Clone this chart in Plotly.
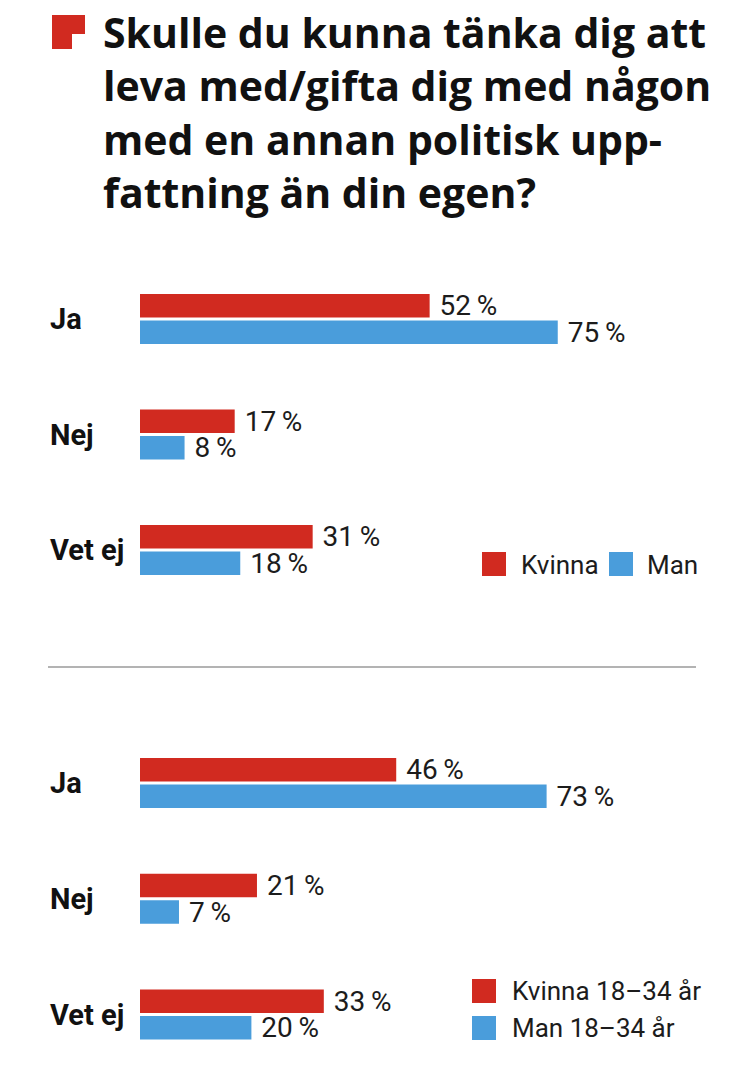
import plotly.graph_objects as go

# ---- data ----
categories = ["Ja", "Nej", "Vet ej"]
kvinna_all = [52, 17, 31]
man_all = [75, 8, 18]
kvinna_young = [46, 21, 33]
man_young = [73, 7, 20]
legend_top = ["Kvinna", "Man"]
legend_bottom = ["Kvinna 18–34 år", "Man 18–34 år"]
title_lines = [
    "Skulle du kunna tänka dig att",
    "leva med/gifta dig med någon",
    "med en annan politisk upp-",
    "fattning än din egen?",
]

RED = "#d12a20"
BLUE = "#4a9ddb"
TXT = "#1c1c1c"
W, H = 749, 1080
TITLE_FONT = "'Open Sans', Roboto, sans-serif"
BODY_FONT = "Roboto, 'Liberation Sans', sans-serif"


def px(x):
    return x / W


def py(y):
    return 1 - y / H


fig = go.Figure()

def add_pair(kv, mn, xa, ya):
    for vals, col in ((kv, RED), (mn, BLUE)):
        fig.add_trace(go.Bar(
            y=categories, x=vals, orientation="h",
            marker=dict(color=col, line=dict(width=0)),
            text=[f"\u00a0{v}\u2009%" for v in vals],
            textposition="outside", constraintext="none",
            textfont=dict(family=BODY_FONT, size=28, color=TXT),
            cliponaxis=False, showlegend=False, hoverinfo="skip",
            xaxis=xa, yaxis=ya,
        ))

add_pair(kvinna_all, man_all, "x", "y")
add_pair(kvinna_young, man_young, "x2", "y2")

xcommon = dict(range=[0, 100], visible=False, domain=[px(140), px(697)], fixedrange=True)
ycommon = dict(type="category", categoryorder="array", categoryarray=categories,
               range=[2.5, -0.5], visible=False, fixedrange=True)

fig.update_layout(
    width=W, height=H,
    margin=dict(l=0, r=0, t=0, b=0),
    paper_bgcolor="white", plot_bgcolor="white",
    barmode="group", bargap=0.54, bargroupgap=0.12,
    xaxis=dict(**xcommon, anchor="y"),
    xaxis2=dict(**xcommon, anchor="y2"),
    yaxis=dict(**ycommon, domain=[py(607.75), py(261.25)], anchor="x"),
    yaxis2=dict(**ycommon, domain=[py(1072.4), py(725.1)], anchor="x2"),
)

annotations = []
# title (single multi-line text)
annotations.append(dict(
    text="<b>" + "<br>".join(title_lines) + "</b>", xref="paper", yref="paper",
    x=px(101), y=py(222), xanchor="left", yanchor="bottom", align="left",
    showarrow=False, font=dict(family=TITLE_FONT, size=41, color="#111", weight=800),
))
# category labels
for ya in ("y", "y2"):
    for c in categories:
        annotations.append(dict(
            text=f"<b>{c}</b>", xref="paper", yref=ya, x=px(48), y=c,
            xanchor="left", yanchor="middle", showarrow=False,
            font=dict(family=BODY_FONT, size=29, color="#111"),
        ))

shapes = []
# red title icon (square with bottom-right notch)
x0, x1, y0, y1 = px(52), px(85), py(15), py(49)
xn, yn = px(72), py(34)
shapes.append(dict(
    type="path", xref="paper", yref="paper",
    path=f"M{x0},{y0} L{x1},{y0} L{x1},{yn} L{xn},{yn} L{xn},{y1} L{x0},{y1} Z",
    fillcolor=RED, line=dict(width=0),
))
# separator
shapes.append(dict(type="line", xref="paper", yref="paper",
                   x0=px(48), x1=px(696), y0=py(667), y1=py(667),
                   line=dict(color="#b3b3b3", width=2)))

# top legend (horizontal)
for (lx, tx), label, col in zip(((482, 519), (609, 645)), legend_top, (RED, BLUE)):
    shapes.append(dict(type="rect", xref="paper", yref="paper",
                       x0=px(lx), x1=px(lx + 24), y0=py(576), y1=py(552),
                       fillcolor=col, line=dict(width=0)))
    annotations.append(dict(text=label, xref="paper", yref="paper",
                            x=px(tx), y=py(565), xanchor="left", yanchor="middle",
                            showarrow=False, font=dict(family=BODY_FONT, size=26, color=TXT)))

# bottom legend (vertical)
for (top, cy), label, col in zip(((979, 991), (1016, 1028)), legend_bottom, (RED, BLUE)):
    shapes.append(dict(type="rect", xref="paper", yref="paper",
                       x0=px(472), x1=px(496), y0=py(top + 24), y1=py(top),
                       fillcolor=col, line=dict(width=0)))
    annotations.append(dict(text=label, xref="paper", yref="paper",
                            x=px(510), y=py(cy), xanchor="left", yanchor="middle",
                            showarrow=False, font=dict(family=BODY_FONT, size=26, color=TXT)))

fig.update_layout(annotations=annotations, shapes=shapes)
fig.write_html("out.html", config={"displayModeBar": False},
               post_script="document.body.style.margin='0';")
